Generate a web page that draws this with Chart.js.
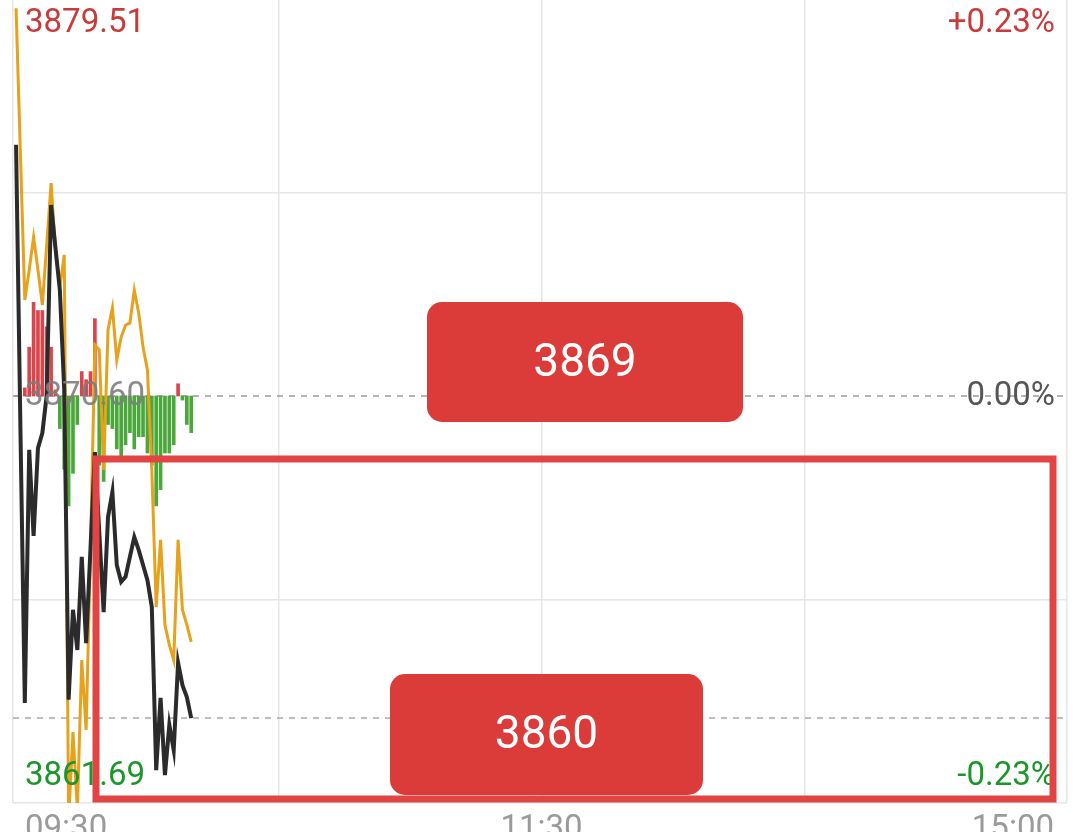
<!DOCTYPE html>
<html>
<head>
<meta charset="utf-8">
<script src="https://cdn.jsdelivr.net/npm/chart.js@4"></script>
<style>
  html, body { margin: 0; padding: 0; background: #fff; overflow: hidden; }
  #wrap { position: absolute; left: 0; top: -11px; width: 1075px; height: 860px; }
</style>
</head>
<body>
<div id="wrap"><canvas id="myChart" width="1075" height="860"></canvas></div>
<script>
// minutes since 09:30 for the points traded so far
const times = ['09:30','09:31','09:32','09:33','09:34','09:35','09:36','09:37','09:38','09:39',
               '09:40','09:41','09:42','09:43','09:44','09:45','09:46','09:47','09:48','09:49',
               '09:50','09:51','09:52','09:53','09:54','09:55','09:56','09:57','09:58','09:59',
               '10:00','10:01','10:02','10:03','10:04','10:05','10:06','10:07','10:08','10:09','10:10'];
const price = [3876.10, 3869.86, 3863.88, 3869.42, 3867.54, 3869.46, 3869.79, 3870.62, 3874.78, 3873.84,
               3872.92, 3870.73, 3863.95, 3865.92, 3865.04, 3867.08, 3865.19, 3867.27, 3869.37, 3867.62,
               3865.87, 3867.95, 3868.50, 3866.90, 3866.53, 3866.64, 3867.08, 3867.51, 3867.23, 3866.90,
               3866.57, 3865.98, 3862.41, 3863.99, 3862.30, 3863.40, 3862.85, 3864.76, 3864.27, 3864.01, 3863.55];
const leadLine = [3879.09, 3875.88, 3872.70, 3873.36, 3874.08, 3873.36, 3872.59, 3873.91, 3875.26, 3873.80,
                  3872.99, 3873.69, 3861.32, 3863.24, 3861.54, 3864.82, 3863.29, 3867.23, 3871.72, 3871.61,
                  3868.98, 3872.05, 3872.53, 3871.39, 3871.89, 3872.15, 3872.20, 3872.92, 3872.42, 3871.67,
                  3871.17, 3868.98, 3865.98, 3867.45, 3865.59, 3865.15, 3864.82, 3867.45, 3865.92, 3865.59, 3865.22];
const flow = [0, 0, 2, 12, 23, 21, 21, 17, 12, 1.5,
              -8, -18, -27, -19, -7, 6, 4, 6, 19, -17,
              -21, -7, -8, -13, -16, -12, -9, -13, -10, -10,
              -14, -17, -27, -23, -14, -14, -12, 3, -1, -7, -9];

const prevClose = 3870.60;
const yMax = 3879.51;
const yMin = 3861.69;
const leftLabels = ['3879.51', '3870.60', '3861.69'];
const rightLabels = ['+0.23%', '0.00%', '-0.23%'];
const timeLabels = ['09:30', '11:30', '15:00'];
const notes = ['3869', '3860'];

const toMin = t => { const [h, m] = t.split(':').map(Number); return h * 60 + m - 570; };
const xMin = -0.7, xMax = 240;
const lastPrice = price[price.length - 1];

const pricePts = times.map((t, i) => ({ x: toMin(t), y: price[i] }));
const leadPts = times.map((t, i) => ({ x: toMin(t), y: leadLine[i] }));
const flowPts = times.map((t, i) => ({ x: toMin(t), y: flow[i] }));

const labelPlugin = {
  id: 'labels',
  afterDatasetsDraw(chart) {
    const { ctx, chartArea: a, scales } = chart;
    const y = scales.y, x = scales.x;
    ctx.save();
    ctx.font = '33px Roboto';
    ctx.textBaseline = 'alphabetic';
    const rows = [
      { v: yMax, off: 43, lc: '#c93a3a', rc: '#c93a3a' },
      { v: prevClose, off: 9, lc: 'rgba(125,125,125,0.9)', rc: '#555555' },
      { v: yMin, off: -18, lc: '#1c962a', rc: '#1c962a' }
    ];
    rows.forEach((r, i) => {
      const py = y.getPixelForValue(r.v) + r.off;
      ctx.textAlign = 'left';
      ctx.fillStyle = r.lc;
      ctx.fillText(leftLabels[i], a.left + 12, py);
      ctx.textAlign = 'right';
      ctx.fillStyle = r.rc;
      ctx.fillText(rightLabels[i], a.right - 12, py);
    });
    ctx.fillStyle = '#9a9a9a';
    const ty = a.bottom + 35;
    ctx.textAlign = 'left';
    ctx.fillText(timeLabels[0], a.left + 12, ty);
    ctx.textAlign = 'center';
    ctx.fillText(timeLabels[1], x.getPixelForValue(120), ty);
    ctx.textAlign = 'right';
    ctx.fillText(timeLabels[2], a.right - 13, ty);
    ctx.restore();
  }
};

// hand-drawn marks on top of the screenshot
const markPlugin = {
  id: 'marks',
  afterDraw(chart) {
    const ctx = chart.ctx;
    ctx.save();
    ctx.translate(0, 11);
    ctx.strokeStyle = '#e24343';
    ctx.lineWidth = 7;
    ctx.strokeRect(96, 459, 957, 340);
    const boxes = [[427, 302, 316, 120], [390, 674, 313, 121]];
    boxes.forEach((b, i) => {
      ctx.fillStyle = '#db3c3a';
      ctx.beginPath();
      ctx.roundRect(b[0], b[1], b[2], b[3], 15);
      ctx.fill();
      ctx.fillStyle = '#ffffff';
      ctx.font = '46px Roboto';
      ctx.textAlign = 'center';
      ctx.textBaseline = 'middle';
      ctx.fillText(notes[i], b[0] + b[2] / 2, b[1] + b[3] / 2 + 2);
    });
    ctx.restore();
  }
};

const ctx = document.getElementById('myChart');
new Chart(ctx, {
  type: 'line',
  data: {
    datasets: [
      {
        label: 'price',
        data: pricePts,
        borderColor: '#2b2b2b',
        borderWidth: 4,
        pointRadius: 0,
        tension: 0
      },
      {
        label: 'lead',
        data: leadPts,
        borderColor: '#e6a21c',
        borderWidth: 3,
        pointRadius: 0,
        tension: 0
      },
      {
        type: 'bar',
        label: 'flow',
        data: flowPts,
        yAxisID: 'y2',
        barThickness: 3,
        backgroundColor: flow.map(v => v >= 0 ? '#d9454a' : '#4aa83a')
      },
      {
        label: 'last',
        data: [{ x: xMin, y: lastPrice }, { x: xMax, y: lastPrice }],
        borderColor: '#a9a9a0',
        borderWidth: 1.5,
        borderDash: [6, 6],
        pointRadius: 0
      },
      {
        label: 'prevClose',
        data: [{ x: xMin, y: prevClose }, { x: xMax, y: prevClose }],
        borderColor: '#9a9a9a',
        borderWidth: 1.5,
        borderDash: [6, 6],
        pointRadius: 0
      }
    ]
  },
  options: {
    responsive: false,
    animation: false,
    devicePixelRatio: 1,
    layout: { padding: { left: 13, right: 8, top: 0, bottom: 46 } },
    plugins: { legend: { display: false }, tooltip: { enabled: false } },
    scales: {
      x: {
        type: 'linear',
        offset: false,
        min: xMin,
        max: xMax,
        afterBuildTicks: s => { s.ticks = [xMin, 60, 120, 180, xMax].map(v => ({ value: v })); },
        ticks: { display: false },
        grid: { color: '#e6e6e6', lineWidth: 1.5, drawTicks: false, offset: false },
        border: { display: false }
      },
      y: {
        min: yMin,
        max: yMax,
        afterBuildTicks: s => {
          const step = (yMax - yMin) / 4;
          s.ticks = [0, 1, 2, 3, 4].map(k => ({ value: yMin + step * k }));
        },
        ticks: { display: false },
        grid: {
          color: c => c.index === 2 ? 'rgba(0,0,0,0)' : '#e6e6e6',
          lineWidth: 1.5,
          drawTicks: false
        },
        border: { display: false }
      },
      y2: {
        display: false,
        min: -100,
        max: 100
      }
    }
  },
  plugins: [labelPlugin, markPlugin]
});
</script>
</body>
</html>
